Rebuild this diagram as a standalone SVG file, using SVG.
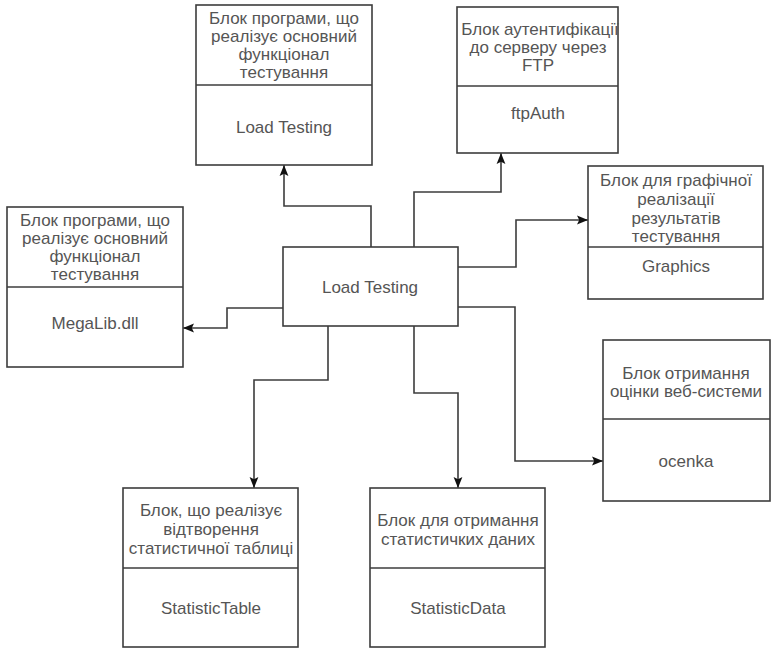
<svg xmlns="http://www.w3.org/2000/svg" width="772" height="649" viewBox="0 0 772 649">
<style>
.box{fill:#fff;stroke:#3c3c3c;stroke-width:1.6}
.div{stroke:#3c3c3c;stroke-width:1.6}
.t{font-family:"Liberation Sans",Arial,sans-serif;font-size:17px;fill:#555;text-anchor:middle;dominant-baseline:central}
.c{fill:none;stroke:#3c3c3c;stroke-width:1.6}
</style>
<defs>
<marker id="arr" viewBox="0 0 10 10" markerUnits="userSpaceOnUse" markerWidth="11" markerHeight="11" refX="10" refY="5" orient="auto">
<path d="M0,1 L10,5 L0,9 L2,5 Z" fill="#111"/>
</marker>
</defs>
<rect width="772" height="649" fill="#fff"/>
<g id="connectors">
<path class="c" d="M371,247 V206 H284 V165" marker-end="url(#arr)"/>
<path class="c" d="M414,247 V192 H501 V153" marker-end="url(#arr)"/>
<path class="c" d="M458,267 H516 V220 H588" marker-end="url(#arr)"/>
<path class="c" d="M458,307 H515 V461 H603" marker-end="url(#arr)"/>
<path class="c" d="M414,326 V393 H458 V488" marker-end="url(#arr)"/>
<path class="c" d="M328,326 V380 H254 V488" marker-end="url(#arr)"/>
<path class="c" d="M283,308 H227 V328 H183" marker-end="url(#arr)"/>
</g>
<g id="loadtesting-top">
<rect class="box" x="196" y="5" width="176" height="160"/>
<line class="div" x1="196" y1="85" x2="372" y2="85"/>
<text class="t" x="284" y="18">Блок програми, що</text>
<text class="t" x="284" y="36">реалізує основний</text>
<text class="t" x="284" y="54">функціонал</text>
<text class="t" x="284" y="72">тестування</text>
<text class="t" x="284" y="127">Load Testing</text>
</g>
<g id="ftpauth">
<rect class="box" x="457" y="7" width="161" height="146"/>
<line class="div" x1="457" y1="86" x2="618" y2="86"/>
<text class="t" x="540" y="29">Блок аутентифікації</text>
<text class="t" x="538" y="47">до серверу через</text>
<text class="t" x="538" y="65">FTP</text>
<text class="t" x="538" y="113">ftpAuth</text>
</g>
<g id="megalib">
<rect class="box" x="7" y="207" width="176" height="160"/>
<line class="div" x1="7" y1="287" x2="183" y2="287"/>
<text class="t" x="95" y="220">Блок програми, що</text>
<text class="t" x="95" y="238">реалізує основний</text>
<text class="t" x="95" y="256">функціонал</text>
<text class="t" x="95" y="274">тестування</text>
<text class="t" x="95" y="323">MegaLib.dll</text>
</g>
<g id="center">
<rect class="box" x="283" y="247" width="175" height="79"/>
<text class="t" x="370" y="287">Load Testing</text>
</g>
<g id="graphics">
<rect class="box" x="588" y="166" width="175" height="133"/>
<line class="div" x1="588" y1="247" x2="763" y2="247"/>
<text class="t" x="676" y="180">Блок для графічної</text>
<text class="t" x="676" y="199">реалізації</text>
<text class="t" x="676" y="218">результатів</text>
<text class="t" x="676" y="236">тестування</text>
<text class="t" x="676" y="266">Graphics</text>
</g>
<g id="ocenka">
<rect class="box" x="603" y="340" width="167" height="161"/>
<line class="div" x1="603" y1="419" x2="770" y2="419"/>
<text class="t" x="686" y="373">Блок отримання</text>
<text class="t" x="686" y="391">оцінки веб-системи</text>
<text class="t" x="686" y="461">ocenka</text>
</g>
<g id="statistictable">
<rect class="box" x="123" y="488" width="175" height="159"/>
<line class="div" x1="123" y1="568" x2="298" y2="568"/>
<text class="t" x="211" y="510">Блок, що реалізує</text>
<text class="t" x="211" y="529">відтворення</text>
<text class="t" x="211" y="548">статистичної таблиці</text>
<text class="t" x="211" y="608">StatisticTable</text>
</g>
<g id="statisticdata">
<rect class="box" x="370" y="488" width="175" height="159"/>
<line class="div" x1="370" y1="568" x2="545" y2="568"/>
<text class="t" x="458" y="520">Блок для отримання</text>
<text class="t" x="458" y="539">статистичких даних</text>
<text class="t" x="458" y="608">StatisticData</text>
</g>
</svg>
